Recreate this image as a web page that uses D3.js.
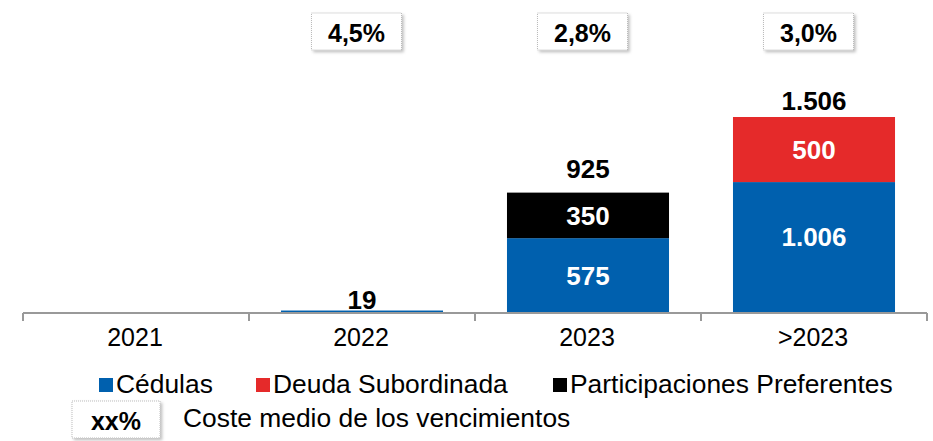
<!DOCTYPE html>
<html>
<head>
<meta charset="utf-8">
<script src="https://cdn.jsdelivr.net/npm/d3@7"></script>
<style>
  body { margin: 0; background: #fff; }
  svg { font-family: "Liberation Sans", Arial, sans-serif; }
</style>
</head>
<body>
<svg id="chart" width="933" height="441"></svg>
<script>
// vencimientos por año (millones)
const years = ["2021", "2022", "2023", ">2023"];
const cedulas = [0, 19, 575, 1006];
const subordinada = [0, 0, 0, 500];
const preferentes = [0, 0, 350, 0];
const costeMedio = [null, "4,5%", "2,8%", "3,0%"];

const seriesKeys = ["cedulas", "subordinada", "preferentes"];
const seriesNames = ["Cédulas", "Deuda Subordinada", "Participaciones Preferentes"];
const colors = ["#0060ae", "#e52a2a", "#000000"];

// small manual nudges for the total labels, like in the original
const totalGap = [0, 2, 15, 7];

const fmt = v => d3.format(",")(v).replace(/,/g, ".");

const rows = years.map((y, i) => ({
    year: y,
    cedulas: cedulas[i],
    subordinada: subordinada[i],
    preferentes: preferentes[i]
}));
const totals = rows.map(r => r.cedulas + r.subordinada + r.preferentes);

const svg = d3.select("#chart");
const baseY = 313;

const x = d3.scaleBand()
    .domain(years)
    .range([23, 927])
    .paddingInner(0.283)
    .paddingOuter(0.1415);

const y = d3.scaleLinear()
    .domain([0, 1506])
    .range([baseY, 117]);

const stack = d3.stack().keys(seriesKeys)(rows);

// shadow for the boxes
const defs = svg.append("defs");
const filt = defs.append("filter").attr("id", "shadow")
    .attr("x", "-20%").attr("y", "-20%").attr("width", "150%").attr("height", "160%");
filt.append("feDropShadow")
    .attr("dx", 2).attr("dy", 2).attr("stdDeviation", 1.5)
    .attr("flood-color", "#000").attr("flood-opacity", 0.25);

// bars
svg.append("g")
    .selectAll("g")
    .data(stack)
    .join("g")
    .attr("fill", (d, i) => colors[i])
    .selectAll("rect")
    .data(d => d)
    .join("rect")
    .attr("x", d => x(d.data.year))
    .attr("width", x.bandwidth())
    .attr("y", d => y(d[1]))
    .attr("height", d => y(d[0]) - y(d[1]));

// labels inside segments
const inner = [];
stack.forEach(s => s.forEach(d => {
    const v = d[1] - d[0];
    if (v > 100) inner.push({ year: d.data.year, v, mid: (d[0] + d[1]) / 2, big: v > 900 });
}));
svg.append("g")
    .selectAll("text")
    .data(inner)
    .join("text")
    .attr("x", d => x(d.year) + x.bandwidth() / 2)
    .attr("y", d => y(d.mid) - (d.big ? 11 : 0))
    .attr("dy", "0.36em")
    .attr("text-anchor", "middle")
    .attr("fill", "#fff")
    .attr("font-weight", "bold")
    .attr("font-size", 26)
    .text(d => fmt(d.v));

// total labels
svg.append("g")
    .selectAll("text")
    .data(years.map((yr, i) => ({ yr, t: totals[i], gap: totalGap[i] })).filter(d => d.t > 0))
    .join("text")
    .attr("x", d => x(d.yr) + x.bandwidth() / 2)
    .attr("y", d => y(d.t) - d.gap)
    .attr("text-anchor", "middle")
    .attr("font-weight", "bold")
    .attr("font-size", 26)
    .text(d => fmt(d.t));

// axis
const axisG = svg.append("g").attr("transform", `translate(0,${baseY})`);
axisG.append("line")
    .attr("x1", 23).attr("x2", 927)
    .attr("stroke", "#999").attr("stroke-width", 2);
const tickX = years.map(yr => x(yr) - x.step() * x.paddingInner() / 2).concat([927]);
axisG.selectAll(".tk")
    .data(tickX)
    .join("line")
    .attr("x1", d => d).attr("x2", d => d)
    .attr("y1", 0).attr("y2", 8)
    .attr("stroke", "#999").attr("stroke-width", 2);
axisG.selectAll(".lbl")
    .data(years)
    .join("text")
    .attr("x", d => x(d) + x.bandwidth() / 2 - 1)
    .attr("y", 33)
    .attr("text-anchor", "middle")
    .attr("font-size", 25)
    .attr("fill", "#000")
    .text(d => d);

// coste medio boxes
function costBox(g, cx, cy, w, h, txt, ty) {
    g.append("rect")
        .attr("x", cx - w / 2).attr("y", cy - h / 2)
        .attr("width", w).attr("height", h)
        .attr("fill", "#fff")
        .attr("stroke", "#bbb")
        .attr("stroke-width", 1)
        .attr("stroke-dasharray", "1,1")
        .attr("filter", "url(#shadow)");
    g.append("text")
        .attr("x", cx).attr("y", ty)
        .attr("text-anchor", "middle")
        .attr("font-weight", "bold")
        .attr("font-size", 25)
        .text(txt);
}
const boxes = svg.append("g");
years.forEach((yr, i) => {
    if (costeMedio[i]) costBox(boxes, x(yr) + x.bandwidth() / 2 - 5.5, 31.5, 90, 37, costeMedio[i], 42);
});

// legend
const legendX = [99, 256, 553];
const leg = svg.append("g");
seriesNames.forEach((name, i) => {
    leg.append("rect")
        .attr("x", legendX[i]).attr("y", 378)
        .attr("width", 14).attr("height", 14)
        .attr("fill", colors[i]);
    leg.append("text")
        .attr("x", legendX[i] + 17).attr("y", 393)
        .attr("font-size", 26.4)
        .text(name);
});
costBox(leg, 116, 419.5, 88, 37, "xx%", 430);
leg.append("text")
    .attr("x", 183).attr("y", 427)
    .attr("font-size", 26.4)
    .text("Coste medio de los vencimientos");
</script>
</body>
</html>
